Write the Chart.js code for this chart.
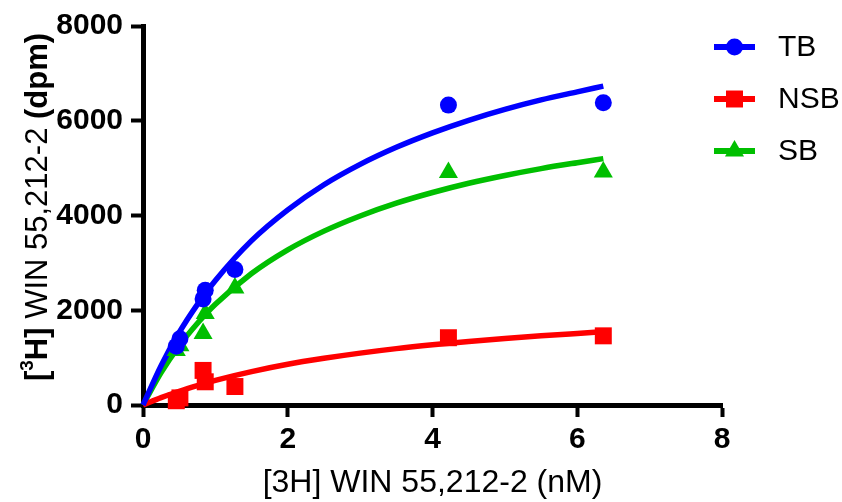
<!DOCTYPE html>
<html>
<head>
<meta charset="utf-8">
<script src="https://cdn.jsdelivr.net/npm/chart.js@4"></script>
<style>
  html, body { margin: 0; padding: 0; background: #fff; }
  #wrap { width: 842px; height: 502px; }
</style>
</head>
<body>
<div id="wrap"><canvas id="chart-binding" width="842" height="502"></canvas></div>
<script>
// ── Data ──────────────────────────────────────────────────────────────────────
const conc = [0.46, 0.51, 0.83, 0.86, 1.27, 4.22, 6.36];     // nM
const tbVals  = [1240, 1400, 2240, 2420, 2860, 6330, 6380];  // total binding
const nsbVals = [90, 150, 730, 490, 390, 1420, 1460];        // non-specific
const sbVals  = [1150, 1250, 1510, 1930, 2470, 4910, 4920];  // specific

// fitted curves, read at these x positions
const fitX   = [0, 0.25, 0.5, 0.75, 1, 1.5, 2, 2.5, 3, 3.5, 4, 4.5, 5, 5.5, 6, 6.36];
const tbFit  = [0, 830, 1530, 2120, 2630, 3470, 4120, 4650, 5080, 5440, 5745, 6010, 6240, 6440, 6610, 6730];
const nsbFit = [0, 155, 290, 410, 520, 705, 860, 985, 1095, 1190, 1270, 1340, 1405, 1460, 1510, 1545];
const sbFit  = [0, 685, 1250, 1720, 2125, 2775, 3275, 3670, 3990, 4260, 4485, 4680, 4845, 4990, 5115, 5200];

const xTicks = [0, 2, 4, 6, 8];
const yTicks = [0, 2000, 4000, 6000, 8000];

const BLUE = '#0000ff';
const RED = '#ff0000';
const GREEN = '#00bf00';
const FONT = 'Arial, "Liberation Sans", sans-serif';

function _toXY(xArr, yArr) {
  return xArr.map((x, i) => ({ x, y: yArr[i] }));
}

const series = [
  { label: 'TB',  color: BLUE,  style: 'circle',   radius: 8.5, pts: tbVals,  fit: tbFit },
  { label: 'NSB', color: RED,   style: 'rect',     radius: 12,  pts: nsbVals, fit: nsbFit },
  { label: 'SB',  color: GREEN, style: 'triangle', radius: 11,  pts: sbVals,  fit: sbFit },
];

const datasets = [];
series.forEach(s => {
  datasets.push({
    label: s.label + ' fit',
    data: _toXY(fitX, s.fit),
    showLine: true,
    borderColor: s.color,
    borderWidth: 5.5,
    pointRadius: 0,
    tension: 0.4,
    cubicInterpolationMode: 'monotone',
    clip: false,
    order: 2,
  });
});
series.forEach(s => {
  datasets.push({
    label: s.label,
    data: _toXY(conc, s.pts),
    showLine: false,
    backgroundColor: s.color,
    borderColor: s.color,
    borderWidth: 0,
    pointStyle: s.style,
    pointRadius: s.radius,
    clip: false,
    order: 1,
  });
});

// ── Legend (line + marker + name) and mixed-weight y title ───────────────────
const extrasPlugin = {
  id: 'extras',
  afterDraw(chart) {
    const ctx = chart.ctx;
    ctx.save();
    const rows = [47, 99, 151];
    series.forEach((s, i) => {
      const y = rows[i];
      ctx.strokeStyle = s.color;
      ctx.lineWidth = 6;
      ctx.beginPath();
      ctx.moveTo(714, y);
      ctx.lineTo(755, y);
      ctx.stroke();
      ctx.fillStyle = s.color;
      Chart.helpers.drawPoint(ctx, { pointStyle: s.style, radius: s.radius, borderWidth: 0 }, 734.5, y);
      ctx.fillStyle = '#000';
      ctx.font = '30px ' + FONT;
      ctx.textBaseline = 'middle';
      ctx.textAlign = 'left';
      ctx.fillText(s.label, 778, y + 1);
    });

    // y-axis title: "[3H] WIN 55,212-2 (dpm)" with bold parts and a superscript
    const parts = [
      { t: '[', f: 'bold 31px ' + FONT, dy: 0 },
      { t: '3', f: 'bold 19px ' + FONT, dy: -10 },
      { t: 'H]', f: 'bold 31px ' + FONT, dy: 0 },
      { t: ' WIN 55,212-2 ', f: '31px ' + FONT, dy: 0 },
      { t: '(dpm)', f: 'bold 31px ' + FONT, dy: 0 },
    ];
    let total = 0;
    parts.forEach(p => { ctx.font = p.f; p.w = ctx.measureText(p.t).width; total += p.w; });
    ctx.translate(37, 207);
    ctx.rotate(-Math.PI / 2);
    ctx.textBaseline = 'middle';
    ctx.textAlign = 'left';
    ctx.fillStyle = '#000';
    let cx = -total / 2;
    parts.forEach(p => {
      ctx.font = p.f;
      ctx.fillText(p.t, cx, p.dy + 1);
      cx += p.w;
    });
    ctx.restore();
  },
};

const ctx = document.getElementById('chart-binding').getContext('2d');
new Chart(ctx, {
  type: 'scatter',
  data: { datasets },
  options: {
    responsive: false,
    animation: false,
    layout: { padding: { left: 0, right: 120, top: 20, bottom: 0 } },
    plugins: {
      legend: { display: false },
      tooltip: { enabled: false },
    },
    scales: {
      x: {
        type: 'linear',
        min: 0,
        max: 8,
        afterBuildTicks: (scale) => { scale.ticks = xTicks.map(v => ({ value: v })); },
        afterFit: (scale) => { scale.height = 97; },
        border: { display: true, color: '#000', width: 5 },
        grid: { display: true, drawOnChartArea: false, drawTicks: true, tickLength: 12, tickWidth: 4, tickColor: '#000' },
        ticks: {
          color: '#000', font: { family: FONT, size: 30, weight: 'bold' }, padding: 5, maxRotation: 0,
          callback: (v) => String(v),
        },
        title: {
          display: true,
          text: '[3H] WIN 55,212-2 (nM)',
          color: '#000',
          font: { family: FONT, size: 32 },
          padding: { top: 2, bottom: 0 },
        },
      },
      y: {
        type: 'linear',
        min: 0,
        max: 8000,
        afterBuildTicks: (scale) => { scale.ticks = yTicks.map(v => ({ value: v })); },
        afterFit: (scale) => { scale.width = 143; },
        border: { display: true, color: '#000', width: 5 },
        grid: { display: true, drawOnChartArea: false, drawTicks: true, tickLength: 12, tickWidth: 4, tickColor: '#000' },
        ticks: {
          color: '#000', font: { family: FONT, size: 30, weight: 'bold' }, padding: 8,
          callback: (v) => String(v),
        },
      },
    },
  },
  plugins: [extrasPlugin],
});
</script>
</body>
</html>
